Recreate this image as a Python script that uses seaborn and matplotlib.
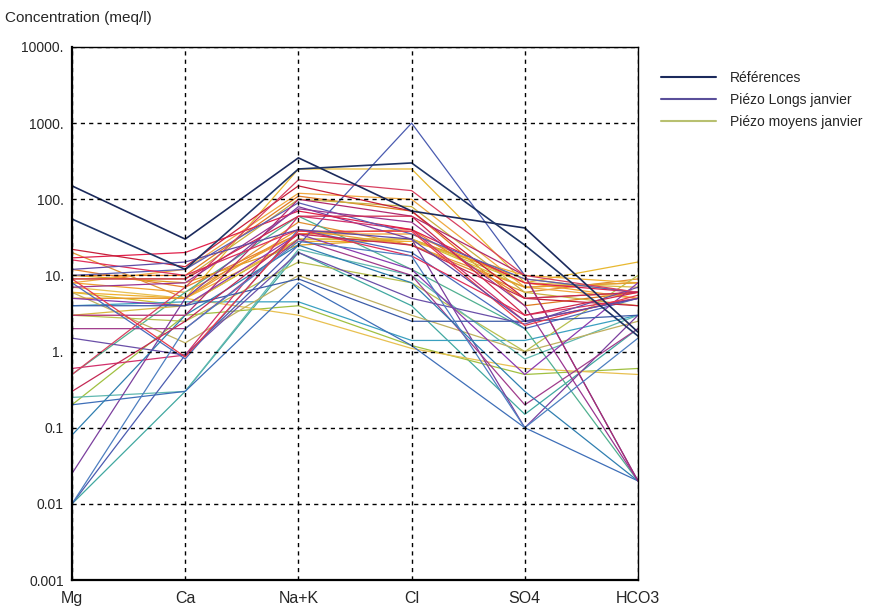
import numpy as np
import pandas as pd
import matplotlib
matplotlib.use("Agg")
import matplotlib.pyplot as plt
import seaborn as sns
from matplotlib.lines import Line2D
from matplotlib.ticker import FixedLocator, NullFormatter

# ---------------- data ----------------
ions = ["Mg", "Ca", "Na+K", "Cl", "SO4", "HCO3"]

references = [
    [150, 30, 350, 70, 42, 1.8],
    [55, 12, 250, 300, 25, 1.6],
]

piezo_longs = [
    [0.01, 0.9, 25, 1000, 10, 0.02],
    [0.025, 5, 80, 30, 0.1, 3],
    [0.6, 0.9, 60, 40, 2.5, 5],
    [17, 20, 70, 40, 8, 6],
    [8, 0.8, 40, 20, 2, 5],
    [2, 2, 30, 10, 0.2, 2],
    [0.2, 0.3, 8, 1.2, 0.1, 0.02],
    [22, 13, 150, 70, 5, 4],
    [10, 12, 90, 35, 9, 6],
    [5, 4, 35, 12, 0.5, 8],
    [0.08, 3, 25, 8, 0.3, 0.02],
    [3, 3, 100, 60, 10, 0.02],
    [16, 10, 40, 18, 3, 5],
    [1.5, 0.9, 20, 5, 2.3, 7],
    [0.5, 7, 180, 130, 10, 6],
    [4, 4, 9, 2.5, 2.5, 3],
    [7, 8, 75, 50, 4, 0.02],
    [0.3, 2.5, 35, 25, 5, 6],
    [0.01, 2, 28, 18, 0.1, 1.5],
    [9, 0.85, 38, 38, 2.2, 5.5],
    [9, 9, 60, 60, 3, 6],
    [12, 15, 40, 30, 2.5, 5],
]

piezo_moyens = [
    [0.01, 0.3, 20, 4, 0.15, 2],
    [5, 5, 250, 250, 8, 15],
    [10, 10, 110, 70, 4, 6],
    [6, 4, 30, 30, 7, 8],
    [8, 6, 35, 35, 8, 5],
    [0.2, 3, 4, 1.2, 0.5, 0.6],
    [7, 5, 3, 1.1, 0.6, 0.5],
    [4, 4.5, 4.5, 1.4, 1.4, 3],
    [20, 5, 50, 25, 6, 9],
    [9, 9, 100, 80, 6, 4],
    [6, 5, 28, 28, 10, 8],
    [0.5, 6, 60, 12, 2, 0.02],
    [12, 7, 35, 40, 5, 6],
    [3, 2.5, 15, 8, 1, 10],
    [8, 12, 120, 100, 7, 5],
    [0.25, 0.3, 22, 10, 0.8, 3],
    [10, 8, 25, 30, 9, 6],
    [6, 1.3, 10, 3, 1, 2.5],
    [5, 5, 40, 25, 7, 8],
    [3, 4, 30, 30, 8, 7],
]

group_names = ["Références", "Piézo Longs janvier", "Piézo moyens janvier"]

ref_colors = ["#1b2a5c", "#1f3566"]
longs_colors = ["#4a5bb0", "#7b3f9e", "#d2306b", "#e0204a", "#4a6bbd",
                "#a03c8c", "#3e6fb8", "#c71f3a", "#5b5fb5", "#8a3ab0",
                "#2f7fb0", "#b02a70", "#e0305a", "#6a4fa8", "#d84060",
                "#3c5ca8", "#9a3590", "#c42a55", "#4d7fc0", "#e83a4a",
                "#d0284e", "#5e4aa5"]
moyens_colors = ["#40a8a0", "#e8b830", "#e07a20", "#d4c030", "#f0a030",
                 "#a0c040", "#e8c050", "#3aa0c0", "#e09030", "#c8b040",
                 "#f0b030", "#50b090", "#e8802a", "#b8c050", "#f0a840",
                 "#60b8b0", "#e0a020", "#c0b060", "#e89a30", "#d8b840"]

legend_colors = ["#1b2a5c", "#5a4f9a", "#b8c070"]
tick_labels = ["0.001", "0.01", "0.1", "1.", "10.", "100.", "1000.", "10000."]
tick_values = [0.001, 0.01, 0.1, 1, 10, 100, 1000, 10000]

# ---------------- build long table ----------------
rows = []
groups = [(piezo_moyens, moyens_colors, "M"), (piezo_longs, longs_colors, "L"),
          (references, ref_colors, "R")]
palettes = {}
for data, cols, tag in groups:
    for i, vals in enumerate(data):
        sid = f"{tag}{i}"
        palettes[sid] = cols[i % len(cols)]
        for ion, v in zip(ions, vals):
            rows.append({"group": tag, "sample": sid, "ion": ion, "value": v})
df = pd.DataFrame(rows)

# ---------------- plot ----------------
sns.set_style("white")
plt.rcParams["font.family"] = ["Liberation Sans", "DejaVu Sans"]

fig = plt.figure(figsize=(8.81, 6.09), dpi=100)
ax = fig.add_axes([72 / 881, 29 / 609, (638 - 72) / 881, (580 - 47) / 609])

for tag, lw in [("M", 0.9), ("L", 0.9), ("R", 1.2)]:
    sub = df[df["group"] == tag]
    sns.lineplot(data=sub, x="ion", y="value", hue="sample",
                 palette={k: v for k, v in palettes.items() if k.startswith(tag)},
                 estimator=None, sort=False, legend=False, linewidth=lw, ax=ax)

ax.set_yscale("log")
ax.set_ylim(0.001, 10000)
ax.set_xlim(0, len(ions) - 1)
ax.set_xticks(range(len(ions)))
ax.set_xticklabels(ions, fontsize=11.5)
ax.yaxis.set_major_locator(FixedLocator(tick_values))
ax.set_yticklabels(tick_labels, fontsize=10)
minor = []
for d in tick_values[:-1]:
    for m in (2, 4, 6, 8):
        minor.append(d * m)
ax.yaxis.set_minor_locator(FixedLocator(minor))
ax.yaxis.set_minor_formatter(NullFormatter())
ax.tick_params(axis="y", which="major", direction="out", length=5, width=1, color="black", pad=1)
ax.tick_params(axis="y", which="minor", direction="out", length=3, width=0.8, color="black")
ax.tick_params(axis="x", direction="out", length=4, width=1, color="black", pad=4)
ax.set_xlabel("")
ax.set_ylabel("")

ax.grid(True, which="major", axis="both", color="black", linestyle=(0, (3, 3)), linewidth=1.0)
ax.set_axisbelow(False)
for s in ax.spines.values():
    s.set_color("black")
    s.set_linewidth(1.0)
ax.spines["left"].set_linewidth(1.6)
ax.spines["bottom"].set_linewidth(1.6)

fig.text(5 / 881, 1 - 18 / 609, "Concentration (meq/l)", fontsize=11, va="center", ha="left")

handles = [Line2D([0], [0], color=c, linewidth=1.5) for c in legend_colors]
fig.legend(handles, group_names, loc="upper left", bbox_to_anchor=(648 / 881, 1 - 58 / 609),
           frameon=False, fontsize=10, handlelength=4.0, handletextpad=1.0, labelspacing=0.6)

fig.savefig("out.png", dpi=100)
